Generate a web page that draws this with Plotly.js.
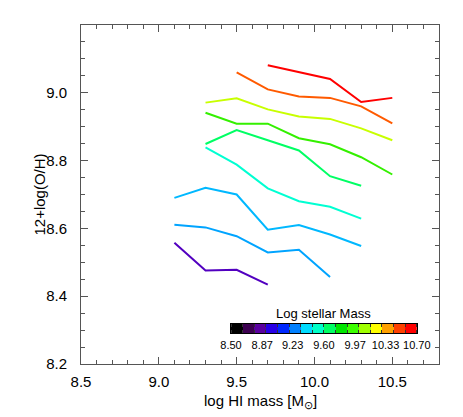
<!DOCTYPE html>
<html>
<head>
<meta charset="utf-8">
<script src="https://cdn.plot.ly/plotly-3.0.1.min.js"></script>
<style>html,body{margin:0;padding:0;background:#fff;}#chart{width:463px;height:417px;}</style>
</head>
<body>
<div id="chart"></div>
<script>
// HI mass bins (x) and metallicity per stellar-mass bin
const xPurple = [9.1, 9.3, 9.5, 9.7];
const yPurple = [8.558, 8.476, 8.478, 8.434];
const xBlueLow = [9.1, 9.3, 9.5, 9.7, 9.9, 10.1];
const yBlueLow = [8.611, 8.603, 8.577, 8.529, 8.537, 8.457];
const xBlueUp = [9.1, 9.3, 9.5, 9.7, 9.9, 10.1, 10.3];
const yBlueUp = [8.690, 8.720, 8.700, 8.596, 8.610, 8.582, 8.548];
const xAqua = [9.3, 9.5, 9.7, 9.9, 10.1, 10.3];
const yAqua = [8.839, 8.788, 8.718, 8.680, 8.664, 8.629];
const xSpring = [9.3, 9.5, 9.7, 9.9, 10.1, 10.3];
const ySpring = [8.849, 8.890, 8.860, 8.830, 8.754, 8.726];
const xGreen = [9.3, 9.5, 9.7, 9.9, 10.1, 10.3, 10.5];
const yGreen = [8.941, 8.909, 8.909, 8.866, 8.848, 8.810, 8.759];
const xLime = [9.3, 9.5, 9.7, 9.9, 10.1, 10.3, 10.5];
const yLime = [8.971, 8.984, 8.951, 8.930, 8.923, 8.895, 8.860];
const xOrange = [9.5, 9.7, 9.9, 10.1, 10.3, 10.5];
const yOrange = [9.060, 9.010, 8.989, 8.985, 8.960, 8.910];
const xRed = [9.7, 9.9, 10.1, 10.3, 10.5];
const yRed = [9.081, 9.061, 9.041, 8.973, 8.985];

// colour bar
const cbMin = 8.50, cbMax = 10.70;
const cbColors = ['#000000','#3c0050','#5a00a0','#2800e6','#0028ff','#0080ff','#00dcff','#00ffc8',
                  '#00ff64','#00e600','#3cff00','#a0ff00','#ffff00','#ffa000','#ff4000','#ff0000'];
const cbTickLabels = ['8.50','8.87','9.23','9.60','9.97','10.33','10.70'];

const series = [
  {x: xPurple, y: yPurple, c: '#5200c0'},
  {x: xBlueLow, y: yBlueLow, c: '#00a4ff'},
  {x: xBlueUp, y: yBlueUp, c: '#00b8ff'},
  {x: xAqua, y: yAqua, c: '#00ffd2'},
  {x: xSpring, y: ySpring, c: '#00ff64'},
  {x: xGreen, y: yGreen, c: '#34f000'},
  {x: xLime, y: yLime, c: '#c8ff00'},
  {x: xOrange, y: yOrange, c: '#ff5a00'},
  {x: xRed, y: yRed, c: '#ff0000'}
];

const traces = series.map(s => ({
  type: 'scatter', mode: 'lines', x: s.x, y: s.y,
  line: {color: s.c, width: 2}, hoverinfo: 'skip', showlegend: false,
  xaxis: 'x', yaxis: 'y'
}));

const n = cbColors.length;
const step = (cbMax - cbMin) / n;
const cbX = cbColors.map((_, i) => cbMin + step * (i + 0.5));
const cbZ = [cbColors.map((_, i) => i)];
traces.push({
  type: 'heatmap', x: cbX, y: [0], z: cbZ, zmin: 0, zmax: n - 1,
  colorscale: cbColors.map((c, i) => [i / (n - 1), c]),
  showscale: false, hoverinfo: 'skip', xaxis: 'x2', yaxis: 'y2'
});
const cbTickVals = cbTickLabels.map(t => parseFloat(t));

const fam = 'Liberation Sans, Arial, sans-serif';
const axisFont = {family: fam, size: 15, color: '#000'};
const layout = {
  width: 463, height: 417,
  margin: {l: 81, r: 24, t: 25, b: 53},
  paper_bgcolor: '#fff', plot_bgcolor: '#fff',
  font: axisFont,
  showlegend: false,
  xaxis: {
    range: [8.5, 10.8], tickvals: [8.5, 9.0, 9.5, 10.0, 10.5], ticktext: ['8.5','9.0','9.5','10.0','10.5'],
    ticks: 'inside', ticklen: 7, tickcolor: '#555', mirror: 'allticks',
    minor: {dtick: 0.1, tick0: 8.5, ticks: 'inside', ticklen: 4, tickcolor: '#555'},
    showline: true, linecolor: '#555', linewidth: 1, showgrid: false, zeroline: false,
    tickfont: axisFont, ticklabelstandoff: 4
  },
  yaxis: {
    range: [8.2, 9.2], tickvals: [8.2, 8.4, 8.6, 8.8, 9.0], ticktext: ['8.2','8.4','8.6','8.8','9.0'],
    ticks: 'inside', ticklen: 7, tickcolor: '#555', mirror: 'allticks',
    minor: {dtick: 0.05, tick0: 8.2, ticks: 'inside', ticklen: 4, tickcolor: '#555'},
    showline: true, linecolor: '#555', linewidth: 1, showgrid: false, zeroline: false,
    tickfont: axisFont, ticklabelstandoff: 10
  },
  xaxis2: {
    domain: [0.419, 0.938], anchor: 'y2', range: [cbMin, cbMax],
    tickvals: cbTickVals, ticktext: cbTickLabels, ticks: '',
    minor: {dtick: step, tick0: cbMin, ticks: 'inside', ticklen: 3, tickcolor: '#333', showgrid: false},
    mirror: 'allticks', showline: true, linecolor: '#000', linewidth: 1,
    showgrid: false, zeroline: false,
    tickfont: {family: fam, size: 11, color: '#000'}, ticklabelstandoff: 1
  },
  yaxis2: {
    domain: [0.0903, 0.118], anchor: 'x2', range: [-0.5, 0.5],
    showticklabels: false, ticks: '', showline: true, mirror: true, linecolor: '#000', linewidth: 1,
    showgrid: false, zeroline: false
  },
  annotations: [
    {
      xref: 'x2', yref: 'paper', x: (cbMin + cbMax) / 2, y: 0.118, yanchor: 'bottom', yshift: 1,
      text: 'Log stellar Mass', showarrow: false,
      font: {family: fam, size: 13, color: '#000'}
    },
    {
      xref: 'paper', yref: 'paper', x: 0.5, y: 0, xanchor: 'center', yanchor: 'top', yshift: -26,
      text: 'log HI mass [M<sub>⊙</sub>]', showarrow: false, font: axisFont
    },
    {
      xref: 'paper', yref: 'paper', x: 0, y: 0.5, xanchor: 'center', yanchor: 'middle', xshift: -42,
      textangle: -90, text: '12+log(O/H)', showarrow: false, font: axisFont
    }
  ]
};

Plotly.newPlot('chart', traces, layout, {displayModeBar: false, staticPlot: true});
</script>
</body>
</html>
